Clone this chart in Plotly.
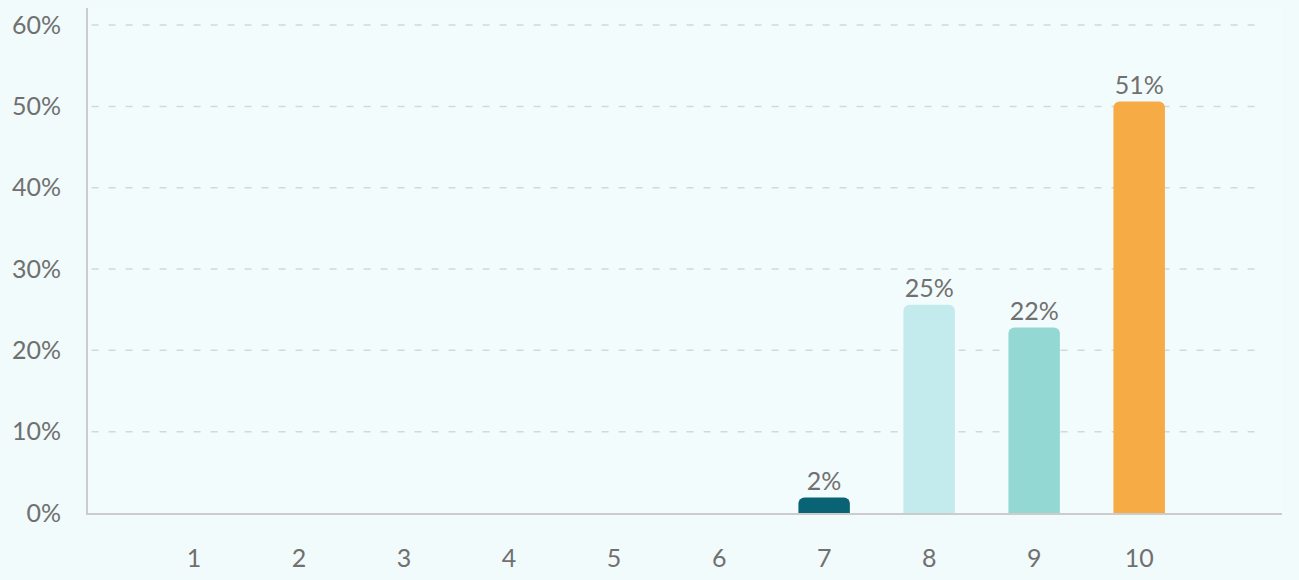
import plotly.graph_objects as go

categories = ["1", "2", "3", "4", "5", "6", "7", "8", "9", "10"]
values = [0, 0, 0, 0, 0, 0, 1.9, 25.6, 22.8, 50.6]
labels = ["", "", "", "", "", "", "2%", "25%", "22%", "51%"]
y_ticks = [0, 10, 20, 30, 40, 50, 60]
y_tick_labels = ["0%", "10%", "20%", "30%", "40%", "50%", "60%"]

bar_colors = ["#0a6275"] * 7 + ["#c3eaec", "#93d8d3", "#f6ab44"]

TEXT = "#707070"
FONT = "Lato, 'Open Sans', sans-serif"
FS = 25

fig = go.Figure()
fig.add_trace(go.Bar(
    x=categories,
    y=values,
    text=labels,
    textposition="outside",
    textfont=dict(family=FONT, size=FS, color=TEXT),
    cliponaxis=False,
    marker=dict(color=bar_colors, cornerradius=6, line=dict(width=0)),
    width=0.49,
    hoverinfo="skip",
))

for v in y_ticks[1:]:
    fig.add_shape(type="line", xref="paper", yref="y", x0=0.003, x1=0.977, y0=v, y1=v,
                  line=dict(color="#d3d8d8", width=1.5, dash="7px,10px"), layer="below")

fig.update_layout(
    width=1299, height=580,
    margin=dict(l=88, r=17, t=8, b=65),
    paper_bgcolor="#f1fbfb",
    plot_bgcolor="#f3fcfc",
    showlegend=False,
    font=dict(family=FONT, size=FS, color=TEXT),
    xaxis=dict(
        type="category",
        categoryorder="array",
        categoryarray=categories,
        range=[-1.01, 10.36],
        showgrid=False,
        zeroline=False,
        showline=True,
        linecolor="#cccccc",
        linewidth=2,
        ticks="",
        ticklabelstandoff=22,
        tickfont=dict(family=FONT, size=FS, color=TEXT),
    ),
    yaxis=dict(
        range=[0, 62.1],
        tickvals=y_ticks,
        ticktext=y_tick_labels,
        showgrid=False,
        zeroline=False,
        showline=True,
        linecolor="#cccccc",
        linewidth=2,
        ticks="",
        ticklabelstandoff=20,
        tickfont=dict(family=FONT, size=FS, color=TEXT),
    ),
    bargap=0.5,
)

fig.write_html("out.html", config={"displayModeBar": False},
               post_script="document.body.style.margin='0';document.body.style.background='#f1fbfb';")
